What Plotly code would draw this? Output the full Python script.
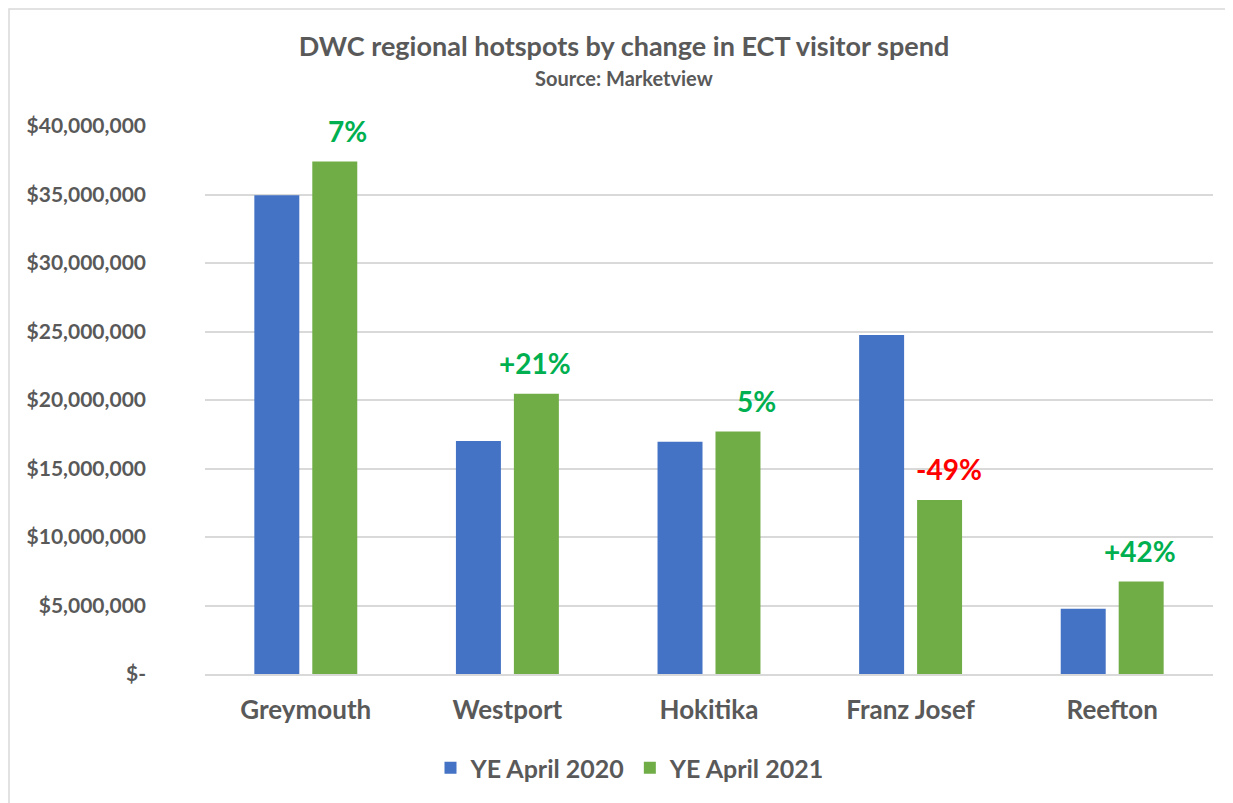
import plotly.graph_objects as go

categories = ["Greymouth", "Westport", "Hokitika", "Franz Josef", "Reefton"]
ye_2020 = [34950000, 17000000, 16950000, 24750000, 4770000]
ye_2021 = [37400000, 20450000, 17700000, 12700000, 6750000]
change_labels = ["7%", "+21%", "5%", "-49%", "+42%"]
change_colors = ["#00B050", "#00B050", "#00B050", "#FF0000", "#00B050"]
tick_vals = [0, 5000000, 10000000, 15000000, 20000000, 25000000, 30000000, 35000000, 40000000]
tick_text = ["$-", "$5,000,000", "$10,000,000", "$15,000,000", "$20,000,000",
             "$25,000,000", "$30,000,000", "$35,000,000", "$40,000,000"]

# label placement (style only): horizontal shift of each change label from category centre
label_xshift = [42, 28, 47, 38, 28]

FONT = "Lato"
GREY = "#595959"

# page has an 8px body margin, so the figure is drawn 8px in from the window edge
OFF = 8
W, H = 1233 - OFF, 803 - OFF
L, T = 205 - OFF, 126 - OFF
R = W - (1213 - OFF)
B = H - (674 - OFF)
pw, ph = W - L - R, H - T - B

fig = go.Figure()
fig.add_trace(go.Bar(x=categories, y=ye_2020, name="YE April 2020", marker_color="#4472C4",
                     marker_line_width=0))
fig.add_trace(go.Bar(x=categories, y=ye_2021, name="YE April 2021", marker_color="#70AD47",
                     marker_line_width=0))

for cat, val, lab, col, dx in zip(categories, ye_2021, change_labels, change_colors, label_xshift):
    fig.add_annotation(x=cat, y=val, text=lab, showarrow=False,
                       xshift=dx, yshift=31, yanchor="middle",
                       font=dict(family=FONT, size=28, color=col, weight="bold"))

fig.add_annotation(text="Source: Marketview", xref="paper", yref="paper",
                   x=(624 - 205) / pw, y=(674 - 78) / ph, showarrow=False,
                   xanchor="center", yanchor="middle",
                   font=dict(family=FONT, size=20, color=GREY, weight="bold"))

fig.add_shape(type="rect", xref="paper", yref="paper",
              x0=(9 - 205) / pw, x1=(1228 - 205) / pw,
              y0=(674 - 830) / ph, y1=(674 - 9) / ph,
              line=dict(color="#D9D9D9", width=1.5), fillcolor="rgba(0,0,0,0)", layer="below")

fig.update_layout(
    width=W, height=H,
    margin=dict(l=L, r=R, t=T, b=B),
    paper_bgcolor="white", plot_bgcolor="white",
    barmode="group", bargap=0.425, bargroupgap=0.224,
    title=dict(text="DWC regional hotspots by change in ECT visitor spend",
               xref="container", yref="container",
               x=(624 - OFF) / W, y=1 - (47 - OFF) / H, xanchor="center", yanchor="middle",
               font=dict(family=FONT, size=27, color=GREY, weight="bold")),
    legend=dict(orientation="h", xref="paper", x=(630 - 205) / pw, xanchor="center",
                y=(674 - 768) / ph, yanchor="middle",
                font=dict(family=FONT, size=25, color=GREY, weight="bold"), itemwidth=30,
                traceorder="normal"),
    showlegend=True,
)
fig.update_yaxes(range=[0, 40000000], tickvals=tick_vals, ticktext=tick_text,
                 tickfont=dict(family=FONT, size=21, color=GREY, weight="bold"),
                 showgrid=True, gridcolor="#D9D9D9", gridwidth=1.5,
                 zeroline=False, showline=False, ticks="", ticklabelstandoff=58)
fig.update_xaxes(tickfont=dict(family=FONT, size=26, color=GREY, weight="bold"),
                 showline=True, linecolor="#D9D9D9", linewidth=1.5,
                 ticks="", ticklabelstandoff=12)

fig.write_html("out.html")
